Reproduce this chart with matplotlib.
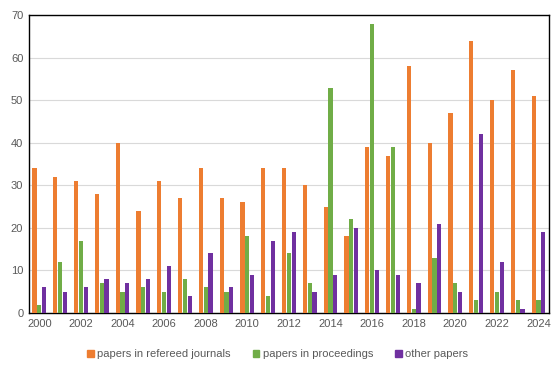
import numpy as np
import matplotlib.pyplot as plt
from matplotlib.patches import Patch

years = list(range(2000, 2025))
journals = [34, 32, 31, 28, 40, 24, 31, 27, 34, 27, 26, 34, 34, 30, 25, 18, 39, 37, 58, 40, 47, 64, 50, 57, 51]
proceedings = [2, 12, 17, 7, 5, 6, 5, 8, 6, 5, 18, 4, 14, 7, 53, 22, 68, 39, 1, 13, 7, 3, 5, 3, 3]
other = [6, 5, 6, 8, 7, 8, 11, 4, 14, 6, 9, 17, 19, 5, 9, 20, 10, 9, 7, 21, 5, 42, 12, 1, 19]

labels = ["papers in refereed journals", "papers in proceedings", "other papers"]
colors = ["#ED7D31", "#70AD47", "#7030A0"]

plt.rcParams['font.family'] = ['Liberation Sans', 'DejaVu Sans']

fig = plt.figure(figsize=(5.55, 3.7), dpi=100)
ax = fig.add_axes([0.052, 0.154, 0.937, 0.805])

x = np.arange(len(years))
w = 0.2
step = 0.23
for i, (vals, c) in enumerate(zip([journals, proceedings, other], colors)):
    ax.bar(x + (i - 1) * step, vals, width=w, color=c, zorder=3)

ax.set_xlim(-0.5, len(years) - 0.5)
ax.set_ylim(0, 70)
ax.set_yticks(range(0, 71, 10))
ax.set_xticks(x[::2])
ax.set_xticklabels([str(y) for y in years[::2]])
ax.tick_params(length=0, labelsize=8, colors="#595959", pad=4)
ax.grid(axis="y", color="#D9D9D9", linewidth=0.8, zorder=0)
for s in ax.spines.values():
    s.set_color("black")
    s.set_linewidth(1.0)

handles = [Patch(color=c, label=l) for c, l in zip(colors, labels)]
fig.legend(handles=handles, loc="center", bbox_to_anchor=(0.5, 0.043), ncol=3,
           frameon=False, fontsize=8, handlelength=0.6, handleheight=0.6,
           handletextpad=0.3, columnspacing=2.0, labelcolor="#595959")

fig.savefig("out.png", dpi=100)
